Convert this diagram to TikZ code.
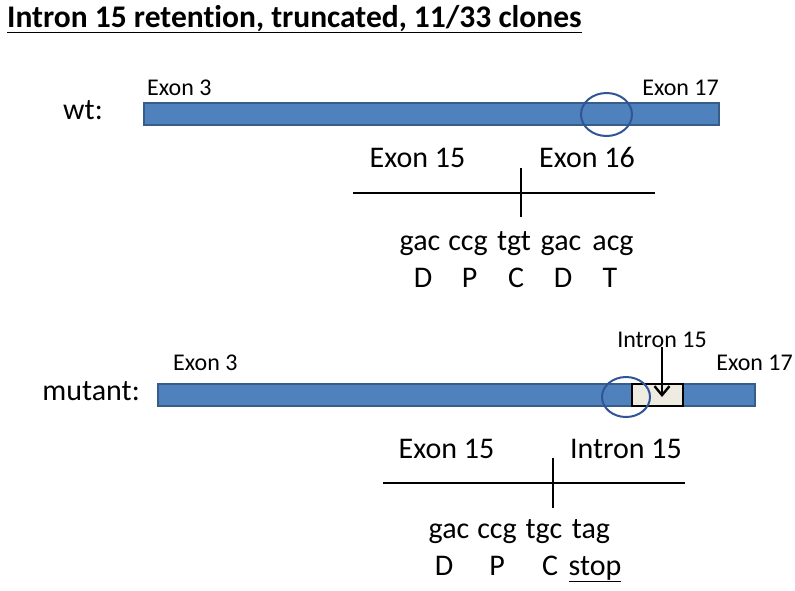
\documentclass[tikz,border=0pt]{standalone}
\usepackage{fontspec}
\setmainfont[Ligatures=NoCommon]{Carlito}
\usepackage{tikz}
\usetikzlibrary{arrows,%
		arrows.meta,%
		calc,%
		positioning,%
		shapes}
\definecolor{barblue}{HTML}{4F81BD}
\definecolor{baredge}{HTML}{385D8A}
\definecolor{ringblue}{HTML}{2F5597}
\definecolor{intronfill}{HTML}{EEECE1}
\tikzset{
  exonbar/.style={fill=barblue,draw=baredge,line width=1.5pt},
  ring/.style={draw=ringblue,line width=2pt},
  big/.style={font=\fontsize{30}{36}\selectfont,inner sep=0pt},
  small/.style={font=\fontsize{24}{29}\selectfont,inner sep=0pt},
  junction/.style={line width=1.5pt}
}

\begin{document}
\begin{tikzpicture}[x=1pt,y=-1pt]

  \useasboundingbox (0,0) rectangle (795,590);
  \node[anchor=base west,inner sep=0pt,font=\fontsize{31.5}{38}\selectfont\bfseries] (title) at (7,27)
    {\underline{Intron 15 retention, truncated, 11/33 clones}};

  % wild type
  \node[big,anchor=base east] (wt) at (103,119) {wt:};
  \draw[exonbar] (144,103) rectangle (719,125);
  \node[small,anchor=base west] (wtex3) at (147,95) {Exon 3};
  \node[small,anchor=base east] (wtex17) at (719,95) {Exon 17};
  \draw[ring] (606.5,114.5) ellipse (25.5 and 21.5);

  \node[big,anchor=base] (wtex15) at (417.5,167) {Exon 15};
  \node[big,anchor=base] (wtex16) at (587,167) {Exon 16};
  \coordinate (wtl) at (353,193);
  \coordinate (wtr) at (655,193);
  \coordinate (wtt) at (521,168);
  \coordinate (wtb) at (521,217);
  \draw[junction] (wtl)--(wtr);
  \draw[junction] (wtt)--(wtb);
  \node[big,anchor=base] (wtc1) at (420,250) {gac};
  \node[big,anchor=base] (wtc2) at (468,250) {ccg};
  \node[big,anchor=base] (wtc3) at (514,250) {tgt};
  \node[big,anchor=base] (wtc4) at (561,250) {gac};
  \node[big,anchor=base] (wtc5) at (613,250) {acg};
  \node[big,anchor=base] (wta1) at (423,287) {D};
  \node[big,anchor=base] (wta2) at (469.5,287) {P};
  \node[big,anchor=base] (wta3) at (516,287) {C};
  \node[big,anchor=base] (wta4) at (563,287) {D};
  \node[big,anchor=base] (wta5) at (610,287) {T};

  % mutant
  \node[big,anchor=base east] (mut) at (140,400) {mutant:};
  \draw[exonbar] (158,384) rectangle (755,406);
  \draw[fill=intronfill,line width=2pt] (632,384) rectangle (683,406);
  \draw[ring] (626,397) ellipse (24 and 20);
  \node[small,anchor=base west] (muex3) at (173,370) {Exon 3};
  \node[small,anchor=base east] (muex17) at (793,370) {Exon 17};
  \node[small,anchor=base] (muin) at (662,347) {Intron 15};
  \coordinate (tip) at (662,397);
  \draw[-{Straight Barb[length=9pt,width=15pt]},line width=2.4pt] (muin) -- (tip);

  \node[big,anchor=base] (muex15) at (446.5,458) {Exon 15};
  \node[big,anchor=base] (muin15) at (626,458) {Intron 15};
  \coordinate (mul) at (383,483);
  \coordinate (mur) at (685,483);
  \coordinate (mut) at (553,458);
  \coordinate (mub) at (553,508);
  \draw[junction] (mul)--(mur);
  \draw[junction] (mut)--(mub);
  \node[big,anchor=base] (muc1) at (449,538) {gac};
  \node[big,anchor=base] (muc2) at (497,538) {ccg};
  \node[big,anchor=base] (muc3) at (544,538) {tgc};
  \node[big,anchor=base] (muc4) at (591,538) {tag};
  \node[big,anchor=base] (mua1) at (444,575) {D};
  \node[big,anchor=base] (mua2) at (497,575) {P};
  \node[big,anchor=base] (mua3) at (550,575) {C};
  \node[big,anchor=base] (mua4) at (595,575) {\underline{stop}};

\end{tikzpicture}
\end{document}
